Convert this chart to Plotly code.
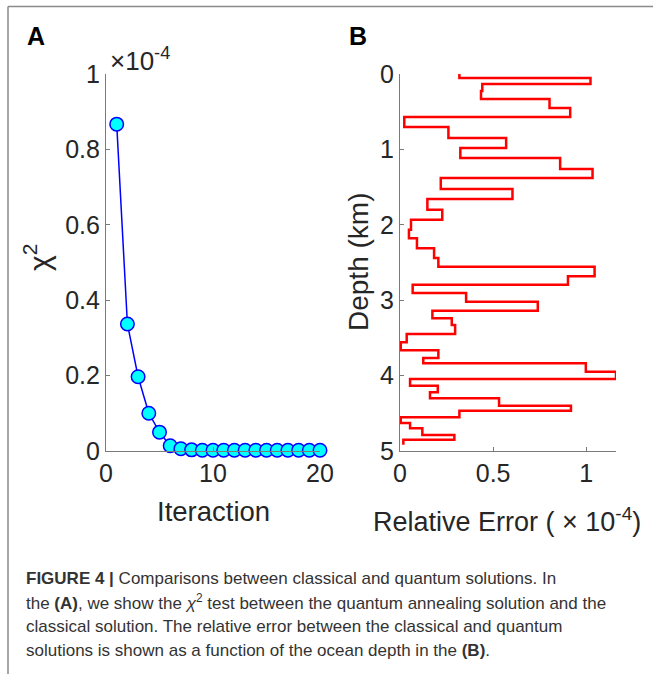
import plotly.graph_objects as go

W, H = 653, 674

# ---- Panel A data ----
iterations = list(range(1, 21))
chi2 = [0.867, 0.337, 0.197, 0.100, 0.050, 0.014, 0.006, 0.003, 0.002, 0.002,
        0.002, 0.002, 0.002, 0.002, 0.002, 0.002, 0.002, 0.002, 0.002, 0.002]
chi_ticks = [0, 0.2, 0.4, 0.6, 0.8, 1]
chi_ticklabels = ["0", "0.2", "0.4", "0.6", "0.8", "1"]
iter_ticks = [0, 10, 20]

# ---- Panel B data (relative error ×1e-4 per depth layer) ----
depth_bounds = [0.0, 0.053, 0.133, 0.225, 0.332, 0.451, 0.570, 0.703, 0.849, 0.981,
                1.114, 1.260, 1.379, 1.525, 1.658, 1.800, 1.932, 2.065, 2.179, 2.312,
                2.440, 2.556, 2.683, 2.794, 2.905, 3.020, 3.139, 3.240, 3.329, 3.448,
                3.558, 3.664, 3.767, 3.837, 3.948, 4.045, 4.134, 4.221, 4.301, 4.399,
                4.466, 4.553, 4.629, 4.699, 4.788, 4.850, 4.916]
rel_error = [0.319, 1.023, 0.442, 0.435, 0.803, 0.914, 0.023, 0.260, 0.570, 0.324,
             0.860, 1.034, 0.219, 0.604, 0.147, 0.227, 0.059, 0.048, 0.091, 0.183,
             0.206, 1.045, 0.902, 0.068, 0.355, 0.740, 0.174, 0.278, 0.296, 0.036,
             0.004, 0.206, 0.125, 0.998, 1.160, 0.054, 0.203, 0.161, 0.532, 0.918,
             0.319, 0.004, 0.054, 0.120, 0.292, 0.018]
err_ticks = [0, 0.5, 1]
err_ticklabels = ["0", "0.5", "1"]
depth_ticks = [0, 1, 2, 3, 4, 5]

caption_lines = [
    "<b>FIGURE 4 |</b> Comparisons between classical and quantum solutions. In",
    "the <b>(A)</b>, we show the <i>χ</i><sup>2</sup> test between the quantum annealing solution and the",
    "classical solution. The relative error between the classical and quantum",
    "solutions is shown as a function of the ocean depth in the <b>(B)</b>.",
]


def px(x):
    return x / W


def py(y):
    return 1 - y / H


AX_COLOR = "#7a7a7a"
TXT = "#262626"
FONT = "Liberation Sans, Arial, sans-serif"

fig = go.Figure()

fig.add_trace(go.Scatter(
    x=iterations, y=chi2, mode="lines+markers",
    line=dict(color="#0000ff", width=1.5),
    marker=dict(size=13.5, color="#00ffff", line=dict(color="#0000ff", width=1.5)),
    xaxis="x", yaxis="y", showlegend=False, cliponaxis=False,
))

fig.add_trace(go.Scatter(
    x=rel_error + [rel_error[-1]], y=depth_bounds, mode="lines",
    line=dict(color="#ff0000", width=2.5, shape="vh"),
    xaxis="x2", yaxis="y2", showlegend=False, cliponaxis=False,
))

common = dict(showgrid=False, zeroline=False, showline=True, linecolor=AX_COLOR,
              linewidth=1.2, ticks="inside", ticklen=4, tickcolor=AX_COLOR,
              tickfont=dict(family=FONT, size=25, color=TXT), mirror=False,
              automargin=False)

fig.update_layout(
    template="none",
    width=W, height=H,
    margin=dict(l=0, r=0, t=0, b=0, pad=0),
    paper_bgcolor="white", plot_bgcolor="white",
    font=dict(family=FONT, color=TXT),
    xaxis=dict(domain=[px(106), px(320)], range=[0, 20], tickvals=iter_ticks,
               anchor="y", **common),
    yaxis=dict(domain=[py(451), py(74)], range=[0, 1], tickvals=chi_ticks,
               ticktext=chi_ticklabels, anchor="x", **common),
    xaxis2=dict(domain=[px(400), px(616)], range=[0, 1.16], tickvals=err_ticks,
                ticktext=err_ticklabels, anchor="y2", **common),
    yaxis2=dict(domain=[py(451), py(74)], range=[5, 0], tickvals=depth_ticks,
                anchor="x2", **common),
)

# frame lines (left and top edges of the figure box)
fig.add_shape(type="line", xref="paper", yref="paper", x0=px(8), x1=px(653),
              y0=py(6.5), y1=py(6.5), line=dict(color="#8a8a8a", width=1.5))
fig.add_shape(type="line", xref="paper", yref="paper", x0=px(8), x1=px(8),
              y0=py(6.5), y1=py(674), line=dict(color="#8a8a8a", width=1.5))

ann = []


def text(x, y, s, size, angle=0, xanchor="center", yanchor="middle", color=TXT, family=FONT, align="center"):
    ann.append(dict(x=px(x), y=py(y), xref="paper", yref="paper", text=s, showarrow=False,
                    textangle=angle, xanchor=xanchor, yanchor=yanchor, align=align,
                    font=dict(size=size, color=color, family=family)))


text(36, 36, "<b>A</b>", 25, color="#000000")
text(358, 36, "<b>B</b>", 25, color="#000000")
text(140, 60, "×10<sup>-4</sup>", 26)
text(37, 258, "χ<sup>2</sup>", 30, angle=-90)
text(213, 511, "Iteraction", 27.5)
text(358, 262, "Depth (km)", 28, angle=-90)
text(507, 520, "Relative Error ( × 10<sup>-4</sup>)", 27)

for i, line in enumerate(caption_lines):
    text(24, 578 + 24 * i, line, 17, xanchor="left", color="#333333", align="left")

fig.update_layout(annotations=ann)

fig.write_html("out.html", config={"displayModeBar": False},
               post_script="document.body.style.margin='0';document.body.style.overflow='hidden';")
